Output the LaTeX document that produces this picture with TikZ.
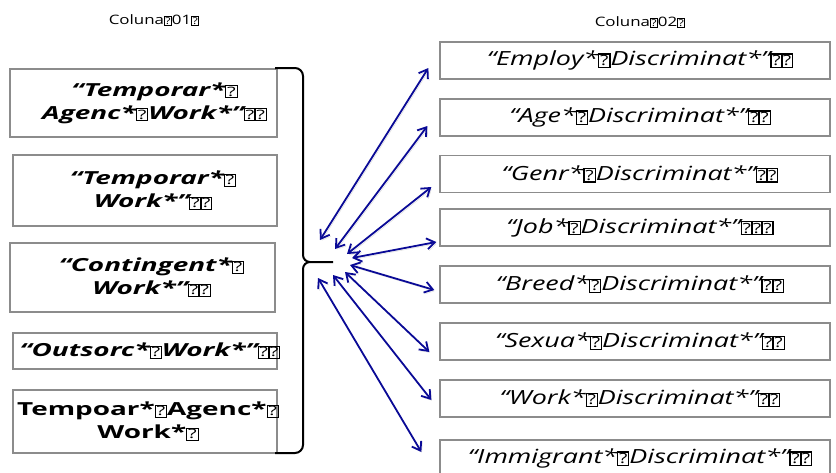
\documentclass[tikz,border=0pt]{standalone}
\usepackage{fontspec}
\setmainfont{Open Sans}
\newfontfamily\leftfont[FakeStretch=1.55]{Open Sans}
\newfontfamily\rightfont[FakeStretch=1.38]{Open Sans}
\newfontfamily\headfont[FakeStretch=1.3]{Open Sans}
\usetikzlibrary{arrows.meta,calc}

\definecolor{boxgray}{RGB}{140,140,140}
\definecolor{linkblue}{RGB}{10,10,150}

% missing-glyph box, as the picture prints it
\newcommand{\tofu}{\begingroup\setlength{\fboxsep}{0.08ex}\setlength{\fboxrule}{0.06em}%
  \fbox{\upshape\mdseries\scalebox{0.72}{?}}\endgroup}
\newcommand{\tofutwo}{\tofu\kern-0.1em\tofu}

\begin{document}
\begin{tikzpicture}[x=1pt,y=-1pt,
  box/.style={draw=boxgray,line width=1.3pt,inner sep=0pt},
  lterm/.style={font=\leftfont\fontsize{18}{23}\selectfont\bfseries\itshape,align=center},
  rterm/.style={font=\rightfont\fontsize{19.5}{22}\selectfont\itshape},
  colhead/.style={font=\headfont\fontsize{13}{15}\selectfont},
  link/.style={draw=linkblue,line width=1.8pt,
    {Straight Barb[length=8pt,width=11pt]}-{Straight Barb[length=8pt,width=11pt]},
    preaction={draw=black!15,transform canvas={shift={(1.2pt,-1.5pt)}}}},
  brace/.style={draw=black,line width=2pt,line join=round}]

  \useasboundingbox (0,0) rectangle (836,472);

  \node[colhead] (h1) at (154,20) {Coluna\tofu01\tofu};
  \node[colhead] (h2) at (640,22) {Coluna\tofu02\tofu};

  % column 1
  \node[box,minimum width=267pt,minimum height=68pt] (l1) at (143.5,103) {};
  \node[box,minimum width=264pt,minimum height=71pt] (l2) at (145,190.5) {};
  \node[box,minimum width=265pt,minimum height=69pt] (l3) at (142.5,277.5) {};
  \node[box,minimum width=264pt,minimum height=36pt] (l4) at (145,351) {};
  \node[box,minimum width=264pt,minimum height=63pt] (l5) at (145,421.5) {};

  \node[lterm] (l1t) at ($(l1)+(11,0)$) {“Temporar*\tofu\\Agenc*\tofu Work*”\tofutwo};
  \node[lterm] (l2t) at ($(l2)+(8,0)$) {“Temporar*\tofu\\Work*”\tofutwo};
  \node[lterm] (l3t) at ($(l3)+(9,0)$) {“Contingent*\tofu\\Work*”\tofutwo};
  \node[lterm] (l4t) at ($(l4)+(5,0)$) {“Outsorc*\tofu Work*”\tofutwo};
  \node[lterm,font=\leftfont\fontsize{18}{23}\selectfont\bfseries] (l5t) at ($(l5)+(3,0)$)
    {Tempoar*\tofu Agenc*\tofu\\Work*\tofu};

  % column 2
  \foreach \i/\y/\txt in {
      1/60.5/{“Employ*\tofu Discriminat*”\tofutwo},
      2/117.5/{“Age*\tofu Discriminat*”\tofutwo},
      3/174/{“Genr*\tofu Discriminat*”\tofutwo},
      4/227.5/{“Job*\tofu Discriminat*”\tofutwo\kern-0.1em\tofu},
      5/284.5/{“Breed*\tofu Discriminat*”\tofutwo},
      6/341.5/{“Sexua*\tofu Discriminat*”\tofutwo},
      7/398.5/{“Work*\tofu Discriminat*”\tofutwo},
      8/458.5/{“Immigrant*\tofu Discriminat*”\tofutwo}} {
    \node[box,minimum width=390pt,minimum height=37pt] (r\i) at (635,\y) {};
    \node[rterm] (r\i t) at ($(r\i)+(5,0)$) {\txt};
  }

  % brace
  \coordinate (btop) at (275,68);
  \coordinate (bbot) at (275,453);
  \coordinate (btip) at (333,262);
  \draw[brace] (btop) -- (295,68) to[out=0,in=90] (303,76) -- (303,255)
    to[out=-90,in=180] (310,262) -- (btip);
  \draw[brace] (310,262) to[out=180,in=90] (303,269) -- (303,445)
    to[out=-90,in=0] (295,453) -- (bbot);

  % links
  \coordinate (s1) at (320,240);
  \coordinate (s2) at (335,249);
  \coordinate (s3) at (347,254);
  \coordinate (s4) at (352,258);
  \coordinate (s5) at (350,265);
  \coordinate (s6) at (345,272);
  \coordinate (s7) at (333,275);
  \coordinate (s8) at (318,278);
  \foreach \i/\dx/\dy in {1/-11/7.5,2/-12/8.5,3/-8/13,4/-3/14.5,
                          5/-5/5.5,6/-10/10.5,7/-8/1.5,8/-18/-6.5}
    \draw[link] (s\i) -- ($(r\i.west)+(\dx,\dy)$);
\end{tikzpicture}
\end{document}
